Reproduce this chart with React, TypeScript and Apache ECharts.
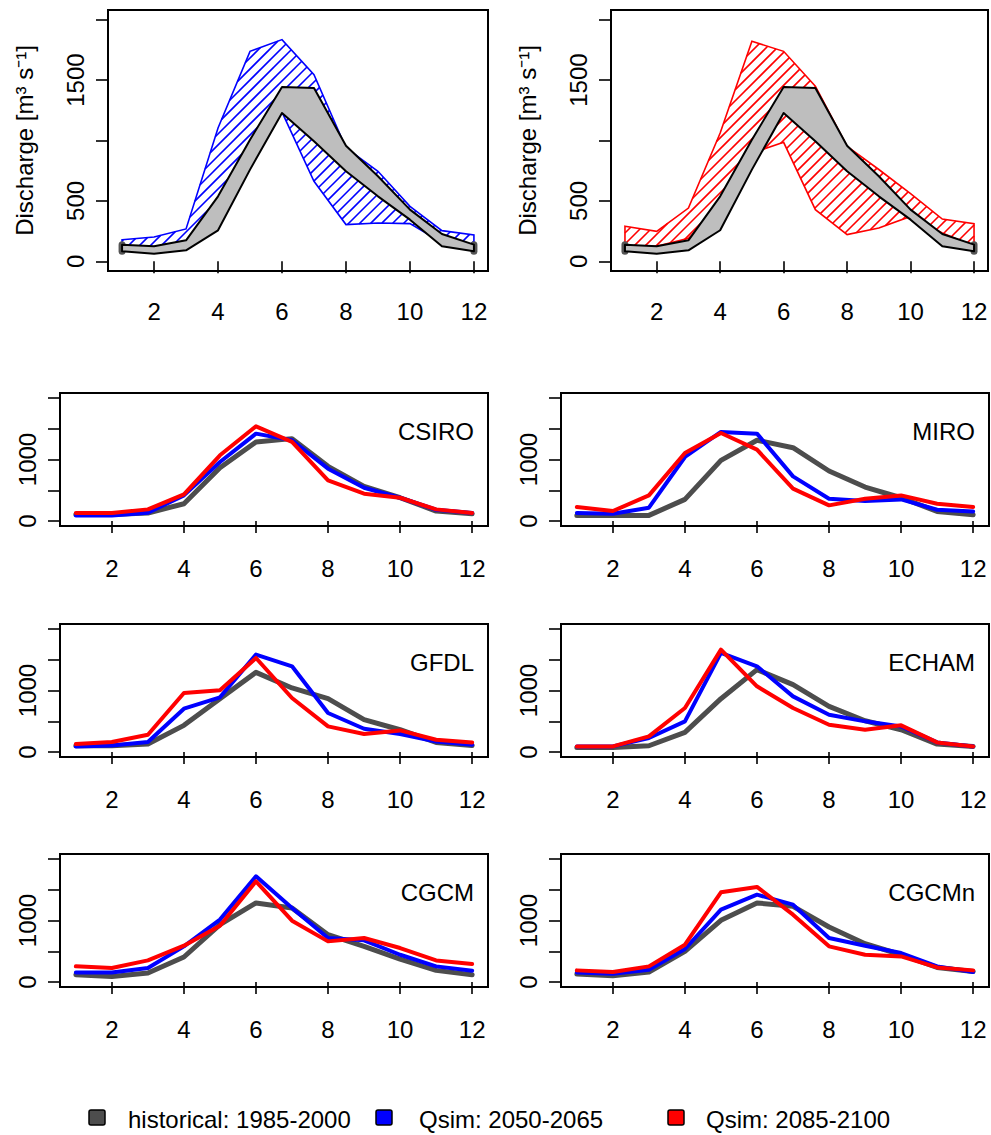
import React, { useEffect, useRef } from "react";
import * as echarts from "echarts";

const months = [1, 2, 3, 4, 5, 6, 7, 8, 9, 10, 11, 12];
const xTicks = [2, 4, 6, 8, 10, 12];
const yTicks = [0, 500, 1000, 1500, 2000];
const yLabelsTop = [0, 500, 1500];
const yLabelsSmall = [0, 1000];

// range bands (top panels)
const histUpper = [138, 124, 174, 538, 1007, 1443, 1435, 957, 704, 428, 226, 138];
const histLower = [83, 63, 91, 257, 759, 1228, 993, 745, 538, 345, 124, 83];
const mid21Upper = [179, 201, 268, 1104, 1738, 1835, 1545, 938, 745, 455, 254, 218];
const mid21Lower = [92, 92, 136, 417, 889, 1235, 662, 304, 317, 312, 157, 119];
const end21Upper = [290, 248, 441, 1062, 1821, 1738, 1449, 952, 760, 560, 350, 312];
const end21Lower = [124, 124, 190, 434, 897, 985, 428, 221, 276, 372, 235, 124];

// per-model series
const models = ["CSIRO", "MIRO", "GFDL", "ECHAM", "CGCM", "CGCMn"];
const histCSIRO = [108, 108, 130, 282, 867, 1285, 1339, 889, 564, 379, 163, 119];
const midCSIRO = [92, 92, 136, 417, 959, 1420, 1312, 851, 542, 379, 184, 130];
const endCSIRO = [130, 130, 190, 434, 1068, 1539, 1285, 661, 444, 379, 190, 130];
const histMIRO = [92, 92, 92, 352, 986, 1312, 1192, 813, 553, 379, 157, 103];
const midMIRO = [130, 119, 217, 1041, 1447, 1420, 726, 363, 325, 352, 184, 157];
const endMIRO = [228, 163, 417, 1106, 1431, 1160, 526, 255, 363, 417, 282, 228];
const histGFDL = [103, 103, 130, 434, 867, 1295, 1041, 867, 526, 363, 157, 108];
const midGFDL = [92, 108, 163, 705, 889, 1583, 1393, 634, 379, 293, 173, 119];
const endGFDL = [130, 163, 282, 959, 1003, 1528, 878, 417, 293, 352, 201, 157];
const histECHAM = [76, 76, 103, 320, 867, 1339, 1095, 743, 509, 363, 130, 92];
const midECHAM = [92, 92, 228, 499, 1610, 1393, 905, 607, 499, 417, 157, 92];
const endECHAM = [92, 92, 255, 715, 1664, 1068, 715, 444, 363, 434, 157, 92];
const histCGCM = [119, 92, 146, 407, 932, 1285, 1203, 770, 580, 374, 190, 119];
const midCGCM = [157, 157, 228, 580, 1014, 1718, 1203, 715, 678, 444, 255, 184];
const endCGCM = [255, 228, 352, 591, 916, 1637, 997, 661, 715, 553, 352, 293];
const histCGCMn = [130, 103, 163, 499, 1003, 1285, 1230, 894, 623, 444, 238, 173];
const midCGCMn = [157, 136, 201, 537, 1176, 1420, 1257, 715, 591, 472, 255, 163];
const endCGCMn = [190, 163, 255, 607, 1458, 1545, 1095, 580, 444, 417, 238, 190];

const modelData = [
  [histCSIRO, midCSIRO, endCSIRO],
  [histMIRO, midMIRO, endMIRO],
  [histGFDL, midGFDL, endGFDL],
  [histECHAM, midECHAM, endECHAM],
  [histCGCM, midCGCM, endCGCM],
  [histCGCMn, midCGCMn, endCGCMn],
];

const legendLabels = ["historical: 1985-2000", "Qsim: 2050-2065", "Qsim: 2085-2100"];
const colors = ["#4d4d4d", "#0000ff", "#ff0000"];
const FONT = "'Liberation Sans', Arial, sans-serif";
const FS = 24;

function hatchLines(pts: number[][], step: number, color: string) {
  const out: any[] = [];
  const sums = pts.map((p) => p[0] + p[1]);
  const cmin = Math.min(...sums);
  const cmax = Math.max(...sums);
  for (let c = Math.ceil(cmin / step) * step; c <= cmax; c += step) {
    const xs: number[][] = [];
    for (let i = 0; i < pts.length; i++) {
      const a = pts[i];
      const b = pts[(i + 1) % pts.length];
      const fa = a[0] + a[1] - c;
      const fb = b[0] + b[1] - c;
      if (fa > 0 !== fb > 0) {
        const t = fa / (fa - fb);
        xs.push([a[0] + t * (b[0] - a[0]), a[1] + t * (b[1] - a[1])]);
      }
    }
    xs.sort((p, q) => p[0] - q[0]);
    for (let k = 0; k + 1 < xs.length; k += 2) {
      out.push({
        type: "line",
        shape: { x1: xs[k][0], y1: xs[k][1], x2: xs[k + 1][0], y2: xs[k + 1][1] },
        style: { stroke: color, lineWidth: 1.6 },
      });
    }
  }
  return out;
}

function bandSeries(upper: number[], lower: number[], idx: number, kind: "hatch" | "grey", color: string, z: number) {
  return {
    type: "custom",
    xAxisIndex: idx,
    yAxisIndex: idx,
    data: [[0]],
    silent: true,
    z,
    renderItem: (_params: any, api: any) => {
      const pts: number[][] = [];
      months.forEach((m, i) => pts.push(api.coord([m, upper[i]])));
      for (let i = months.length - 1; i >= 0; i--) pts.push(api.coord([months[i], lower[i]]));
      const children: any[] = [];
      if (kind === "hatch") {
        children.push(...hatchLines(pts, 11, color));
        children.push({ type: "polygon", shape: { points: pts }, style: { fill: "none", stroke: color, lineWidth: 1.6 } });
      } else {
        const n = months.length;
        const a1 = api.coord([months[0], upper[0]]);
        const b1 = api.coord([months[0], lower[0]]);
        const a2 = api.coord([months[n - 1], upper[n - 1]]);
        const b2 = api.coord([months[n - 1], lower[n - 1]]);
        children.push({ type: "line", shape: { x1: a1[0], y1: a1[1], x2: b1[0], y2: b1[1] }, style: { stroke: "#555", lineWidth: 7, lineCap: "round" } });
        children.push({ type: "line", shape: { x1: a2[0], y1: a2[1], x2: b2[0], y2: b2[1] }, style: { stroke: "#555", lineWidth: 7, lineCap: "round" } });
        children.push({ type: "polygon", shape: { points: pts }, style: { fill: "#bebebe", stroke: "#000", lineWidth: 2, lineJoin: "round" } });
      }
      return { type: "group", children };
    },
  };
}

export default function App() {
  const ref = useRef<HTMLDivElement>(null);
  useEffect(() => {
    if (!ref.current) return;
    const chart = echarts.init(ref.current, undefined, { renderer: "svg" });

    const grids: any[] = [
      { left: 108, top: 10, width: 380, height: 261 },
      { left: 611, top: 10, width: 377, height: 261 },
    ];
    const rowTops = [393, 624, 854];
    rowTops.forEach((t) => {
      grids.push({ left: 60, top: t, width: 428, height: 133 });
      grids.push({ left: 561, top: t, width: 428, height: 133 });
    });
    grids.forEach((g) => {
      g.show = true;
      g.borderColor = "#000";
      g.borderWidth = 2;
      g.backgroundColor = "transparent";
      g.containLabel = false;
    });

    const fmt = (v: number) => String(Math.round(v));

    const xAxes = grids.map((_, i) => ({
      type: "value",
      gridIndex: i,
      min: 0.56,
      max: 12.44,
      axisLine: { show: false },
      splitLine: { show: false },
      axisTick: { show: true, customValues: xTicks, length: 12, lineStyle: { color: "#000", width: 1.6 } },
      axisLabel: { customValues: xTicks, formatter: fmt, margin: i < 2 ? 28 : 30, fontSize: FS, color: "#000", fontFamily: FONT },
    }));
    const yAxes = grids.map((_, i) => ({
      type: "value",
      gridIndex: i,
      min: -80,
      max: 2080,
      axisLine: { show: false },
      splitLine: { show: false },
      axisTick: { show: true, customValues: yTicks, length: 12, lineStyle: { color: "#000", width: 1.6 } },
      axisLabel: {
        customValues: i < 2 ? yLabelsTop : yLabelsSmall,
        formatter: fmt,
        rotate: 90,
        margin: 21,
        fontSize: FS,
        color: "#000",
        fontFamily: FONT,
      },
      name: i < 2 ? "Discharge [m³ s⁻¹]" : "",
      nameLocation: "middle",
      nameGap: 72,
      nameRotate: 90,
      nameTextStyle: { fontSize: FS, color: "#000", fontFamily: FONT },
    }));

    const series: any[] = [
      bandSeries(mid21Upper, mid21Lower, 0, "hatch", "#0000ff", 2),
      bandSeries(histUpper, histLower, 0, "grey", "#000", 3),
      bandSeries(end21Upper, end21Lower, 1, "hatch", "#ff0000", 2),
      bandSeries(histUpper, histLower, 1, "grey", "#000", 3),
    ];
    modelData.forEach((set, mi) => {
      set.forEach((vals, si) => {
        series.push({
          type: "line",
          xAxisIndex: mi + 2,
          yAxisIndex: mi + 2,
          data: months.map((m, k) => [m, vals[k]]),
          showSymbol: false,
          silent: true,
          z: 2 + si,
          lineStyle: { color: colors[si], width: si === 0 ? 5 : 4, cap: "round", join: "round" },
        });
      });
    });

    const graphics: any[] = [];
    models.forEach((name, mi) => {
      const g = grids[mi + 2];
      graphics.push({
        type: "text",
        x: g.left + g.width - 14,
        y: g.top + 38,
        style: { text: name, fontSize: FS, fill: "#000", fontFamily: FONT, align: "right", verticalAlign: "middle" },
      });
    });
    const legendSq = [89, 376, 668];
    const legendTx = [128, 419, 706];
    legendLabels.forEach((lab, i) => {
      graphics.push({
        type: "rect",
        shape: { x: legendSq[i], y: 1110, width: 16, height: 15, r: 2 },
        style: { fill: colors[i], stroke: "#000", lineWidth: 1.5 },
      });
      graphics.push({
        type: "text",
        x: legendTx[i],
        y: 1119,
        style: { text: lab, fontSize: FS, fill: "#000", fontFamily: FONT, align: "left", verticalAlign: "middle" },
      });
    });

    chart.setOption({
      animation: false,
      backgroundColor: "#fff",
      grid: grids,
      xAxis: xAxes,
      yAxis: yAxes,
      series,
      graphic: graphics,
    });
    return () => chart.dispose();
  }, []);
  return <div ref={ref} style={{ position: "absolute", left: 0, top: 0, width: 991, height: 1135 }} />;
}
